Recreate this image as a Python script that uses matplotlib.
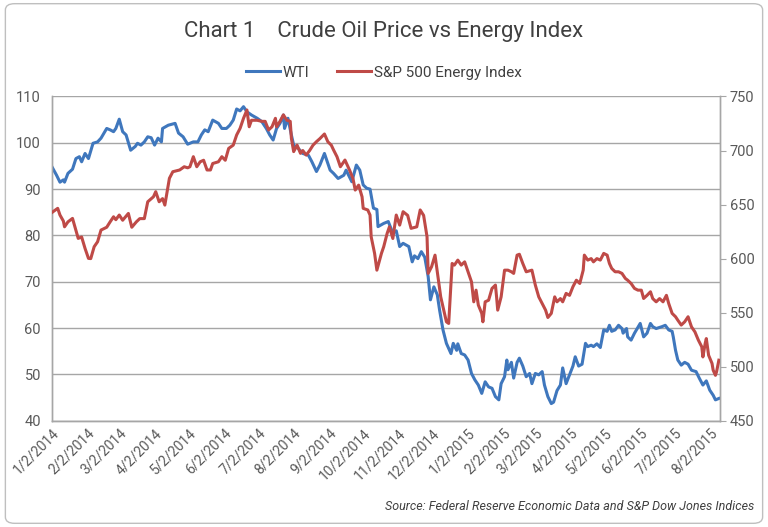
import pandas as pd
import numpy as np
import matplotlib
matplotlib.use('Agg')
import matplotlib.pyplot as plt
from matplotlib.patches import FancyBboxPatch

plt.rcParams['font.family'] = ['Roboto', 'DejaVu Sans']

start = pd.Timestamp('2014-01-02')

# WTI (left axis), days since 1/2/2014
wti_days = [0, 4, 7, 10, 11, 14, 18, 21, 24, 26, 29, 32, 36, 40, 43, 48, 51, 54, 56, 59,
            62, 65, 69, 73, 75, 78, 81, 84, 87, 90, 93, 96, 97, 102, 108, 111, 115, 119,
            124, 128, 131, 134, 137, 141, 146, 149, 153, 156, 159, 162, 165, 168, 171,
            175, 180, 184, 188, 191, 194, 197, 200, 203, 204, 207, 210, 212, 216, 220,
            225, 228, 232, 235, 239, 244, 247, 251, 256, 258, 263, 267, 270, 273, 276,
            279, 282, 285, 286, 291, 295, 299, 302, 305, 308, 313, 316, 318, 321, 324,
            327, 330, 332, 335, 338, 340, 343, 346, 350, 352, 355, 356, 359, 362, 365,
            368, 371, 374, 377, 380, 383, 386, 389, 392, 394, 397, 399, 400, 403, 405,
            408, 410, 413, 416, 419, 421, 424, 427, 430, 432, 435, 438, 440, 443, 446,
            448, 451, 454, 457, 459, 462, 465, 468, 470, 473, 475, 478, 481, 484, 487,
            489, 491, 494, 497, 500, 501, 504, 505, 508, 511, 516, 519, 522, 525, 527,
            530, 535, 538, 541, 544, 545, 547, 549, 552, 555, 558, 561, 565, 568, 571,
            574, 577, 580, 582, 585]
wti = [94.8, 93.0, 91.5, 92.0, 91.5, 93.4, 94.3, 96.6, 97.0, 95.9, 97.7, 96.6, 99.9, 100.2,
       101.0, 103.1, 102.8, 102.4, 103.1, 105.1, 102.4, 101.7, 98.4, 99.2, 99.9, 99.5,
       100.2, 101.3, 101.1, 99.5, 101.0, 100.2, 103.1, 103.8, 104.2, 102.1, 101.3, 99.7,
       100.2, 100.2, 101.7, 102.8, 102.4, 104.9, 104.2, 103.1, 103.1, 103.8, 104.9, 107.3,
       106.9, 107.8, 106.7, 106.0, 105.3, 104.6, 103.1, 101.7, 100.6, 103.1, 104.2, 106.0,
       103.1, 105.3, 101.7, 99.5, 98.8, 97.7, 97.3, 95.9, 93.8, 95.2, 97.7, 94.1, 93.4,
       92.3, 93.0, 94.1, 91.6, 95.2, 94.1, 90.9, 90.2, 90.0, 85.9, 85.6, 81.9, 82.6, 83.0,
       80.5, 81.0, 77.6, 78.3, 77.6, 74.3, 75.6, 75.0, 76.5, 75.3, 71.1, 66.1, 68.9, 67.2,
       63.9, 59.6, 56.7, 54.5, 56.7, 55.2, 56.6, 54.5, 54.2, 53.1, 50.2, 48.8, 47.7, 45.9,
       48.4, 47.3, 47.0, 45.2, 44.5, 48.0, 49.5, 53.1, 51.0, 52.6, 49.2, 52.6, 53.5, 51.8,
       49.5, 50.2, 48.0, 50.2, 49.9, 50.6, 47.7, 45.2, 43.7, 44.0, 46.5, 47.7, 51.4, 48.0,
       49.9, 51.8, 53.8, 51.8, 52.2, 56.7, 56.0, 56.3, 56.0, 56.6, 55.8, 59.6, 59.3, 60.6,
       59.3, 59.6, 60.6, 59.9, 58.9, 59.9, 58.1, 57.4, 58.9, 61.0, 58.1, 58.9, 61.0, 60.3,
       59.9, 60.3, 60.6, 59.6, 59.3, 58.1, 55.2, 53.1, 52.0, 52.6, 52.2, 50.9, 50.6, 49.1,
       47.7, 48.6, 46.6, 45.5, 44.5, 44.8]

# S&P 500 Energy Index (right axis)
spx_days = [0, 5, 7, 10, 11, 14, 18, 23, 26, 29, 32, 34, 37, 40, 43, 48, 51, 54, 56, 59,
            62, 67, 70, 74, 77, 81, 84, 89, 91, 94, 97, 99, 101, 103, 106, 112, 116, 119,
            121, 124, 127, 130, 133, 136, 139, 141, 146, 149, 152, 155, 159, 162, 165, 168,
            171, 173, 175, 180, 184, 187, 190, 193, 196, 197, 200, 203, 206, 209, 210, 212,
            215, 218, 220, 223, 226, 229, 232, 235, 239, 242, 245, 247, 250, 253, 257, 261,
            264, 266, 269, 272, 273, 277, 279, 280, 283, 285, 289, 291, 294, 296, 299, 302,
            305, 308, 312, 315, 320, 323, 326, 329, 330, 333, 336, 339, 341, 343, 346, 348,
            351, 353, 356, 359, 362, 365, 368, 370, 372, 374, 377, 378, 380, 383, 386, 389,
            390, 391, 394, 397, 400, 403, 405, 408, 410, 413, 416, 421, 424, 427, 430, 433,
            435, 438, 441, 443, 446, 448, 451, 454, 457, 460, 463, 466, 467, 470, 473, 475,
            478, 481, 484, 487, 489, 491, 494, 497, 500, 503, 505, 508, 511, 514, 517, 519,
            522, 525, 527, 530, 533, 536, 539, 541, 544, 547, 549, 552, 555, 558, 561, 564,
            567, 570, 571, 573, 574, 576, 579, 580, 582, 583, 585]
spx = [642.7, 646.5, 640.3, 634.7, 629.4, 634.0, 637.2, 618.7, 620.0, 609.4, 600.2, 600.0,
       611.0, 615.6, 626.4, 629.0, 634.0, 638.7, 636.0, 640.3, 635.5, 641.8, 629.0, 634.0,
       637.0, 637.0, 652.6, 657.2, 661.9, 652.6, 655.5, 649.5, 662.0, 674.3, 680.4, 682.0,
       685.0, 684.0, 685.0, 694.3, 685.0, 689.6, 691.0, 682.0, 682.0, 688.0, 689.6, 694.3,
       691.0, 702.0, 705.0, 714.4, 720.5, 729.8, 737.5, 722.0, 728.0, 728.0, 727.0, 727.0,
       719.0, 722.0, 729.8, 722.0, 727.0, 733.0, 728.0, 727.0, 711.3, 699.0, 705.0, 697.4,
       700.0, 695.8, 700.0, 705.0, 708.2, 711.0, 715.3, 708.1, 705.0, 700.5, 694.3, 685.0,
       691.2, 682.0, 674.2, 663.4, 668.0, 657.2, 646.5, 645.0, 640.3, 620.2, 604.8, 589.3,
       604.8, 611.0, 623.3, 629.4, 618.6, 640.3, 631.0, 643.4, 640.0, 628.0, 629.4, 645.0,
       640.0, 620.2, 586.3, 592.5, 603.2, 580.0, 564.6, 555.4, 541.5, 540.0, 595.5, 594.0,
       598.6, 594.0, 597.0, 587.8, 578.5, 560.0, 570.8, 557.0, 549.3, 541.5, 560.0, 561.5,
       572.4, 575.5, 564.6, 552.3, 564.6, 589.3, 589.3, 587.8, 586.3, 603.2, 604.0, 595.5,
       587.8, 589.3, 575.5, 564.6, 558.5, 552.3, 545.5, 549.3, 564.6, 560.0, 563.0, 560.0,
       567.8, 566.0, 574.0, 580.0, 577.0, 589.3, 603.2, 598.6, 600.0, 597.0, 600.0, 598.6,
       604.8, 603.2, 595.5, 590.9, 587.8, 587.8, 586.3, 581.6, 580.0, 577.0, 572.4, 570.8,
       570.8, 563.1, 566.0, 569.3, 563.0, 560.0, 563.0, 560.0, 566.0, 558.5, 549.3, 546.2,
       543.0, 538.5, 541.5, 546.2, 536.8, 532.2, 524.6, 518.4, 509.0, 521.5, 526.0, 510.6,
       503.0, 496.8, 492.0, 495.3, 506.0]

wti_dates = start + pd.to_timedelta(wti_days, unit='D')
spx_dates = start + pd.to_timedelta(spx_days, unit='D')
month_ticks = pd.date_range('2014-01-01', '2015-08-01', freq='MS') + pd.Timedelta(days=1)
tick_labels = [f'{d.month}/{d.day}/{d.year}' for d in month_ticks]

blue = '#3F77BD'
red = '#BF4A47'
grid_c = '#A6A6A6'
txt_c = '#404040'
tick_c = '#595959'

fig = plt.figure(figsize=(7.68, 5.27), dpi=100)
fig.patches.append(FancyBboxPatch((0.007, 0.007), 0.986, 0.986, boxstyle='round,pad=0,rounding_size=0.012',
                                  transform=fig.transFigure, fc='white', ec='#BFBFBF', lw=1.0,
                                  zorder=-10))

ax = fig.add_axes([0.0677, 0.2017, 0.8698, 0.6152])
ax2 = ax.twinx()
ax.patch.set_visible(False)
ax2.patch.set_visible(False)

ax.plot(wti_dates, wti, color=blue, lw=2.2, label='WTI', zorder=3)
ax2.plot(spx_dates, spx, color=red, lw=2.2, label='S&P 500 Energy Index', zorder=3)

ax.set_xlim(start, start + pd.Timedelta(days=586))
ax.set_ylim(40, 110)
ax.set_yticks(range(40, 111, 10))
ax2.set_ylim(450, 750)
ax2.set_yticks(range(450, 751, 50))

ax.set_xticks(month_ticks)
ax.set_xticklabels(tick_labels, rotation=45, ha='right', rotation_mode='anchor')

ax.grid(axis='y', color=grid_c, lw=1.0)
ax.set_axisbelow(True)
for a in (ax, ax2):
    a.spines['top'].set_visible(False)
    for s in ('left', 'right', 'bottom'):
        a.spines[s].set_color(grid_c)
        a.spines[s].set_linewidth(1.0)
ax.tick_params(axis='y', length=0, labelsize=10.5, labelcolor=tick_c, pad=8)
ax.tick_params(axis='x', length=0, labelsize=10, labelcolor=tick_c, pad=4)
ax2.tick_params(axis='y', length=4, color=grid_c, labelsize=10.5, labelcolor=tick_c, pad=3)

fig.text(0.5, 0.94, 'Chart 1    Crude Oil Price vs Energy Index', ha='center', va='center',
         fontsize=16, color=txt_c)
h1, l1 = ax.get_legend_handles_labels()
h2, l2 = ax2.get_legend_handles_labels()
fig.legend(h1 + h2, l1 + l2, loc='center', bbox_to_anchor=(0.5, 0.862), ncol=2, frameon=False,
           fontsize=11, handlelength=2.2, handletextpad=0.2, columnspacing=1.8,
           labelcolor=txt_c)
fig.text(0.982, 0.038, 'Source: Federal Reserve Economic Data and S&P Dow Jones Indices',
         ha='right', va='center', fontsize=9, style='italic', color=txt_c)

fig.savefig('out.png', dpi=100)
